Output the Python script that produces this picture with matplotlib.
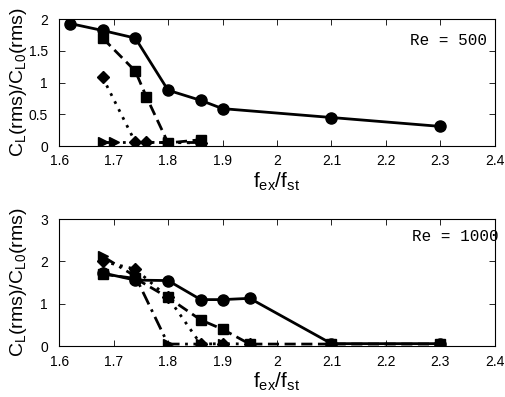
import matplotlib
matplotlib.use('Agg')
import matplotlib.pyplot as plt

plt.rcParams['font.family'] = 'Liberation Sans'
plt.rcParams['mathtext.fontset'] = 'custom'
plt.rcParams['mathtext.rm'] = 'Liberation Sans'
plt.rcParams['mathtext.it'] = 'Liberation Sans'

# Re = 500 data
x500_circ = [1.62, 1.68, 1.74, 1.80, 1.86, 1.90, 2.10, 2.30]
y500_circ = [1.93, 1.82, 1.70, 0.88, 0.72, 0.59, 0.45, 0.31]
x500_sq = [1.68, 1.74, 1.76, 1.80, 1.86]
y500_sq = [1.70, 1.18, 0.78, 0.05, 0.10]
x500_dia = [1.68, 1.74, 1.76, 1.86]
y500_dia = [1.08, 0.06, 0.06, 0.05]
x500_tri = [1.68, 1.70, 1.80, 1.86]
y500_tri = [0.06, 0.06, 0.06, 0.06]

# Re = 1000 data
x1000_circ = [1.68, 1.74, 1.80, 1.86, 1.90, 1.95, 2.10, 2.30]
y1000_circ = [1.73, 1.56, 1.55, 1.10, 1.10, 1.13, 0.06, 0.06]
x1000_sq = [1.68, 1.74, 1.80, 1.86, 1.90, 1.95, 2.10, 2.30]
y1000_sq = [1.70, 1.60, 1.15, 0.62, 0.40, 0.05, 0.05, 0.05]
x1000_dia = [1.68, 1.74, 1.80, 1.86, 1.90, 1.95]
y1000_dia = [2.00, 1.82, 1.15, 0.05, 0.06, 0.05]
x1000_tri = [1.68, 1.74, 1.80, 1.86, 1.90]
y1000_tri = [2.12, 1.65, 0.05, 0.05, 0.06]

xticks = [1.6, 1.7, 1.8, 1.9, 2.0, 2.1, 2.2, 2.3, 2.4]
xticklabels = ['1.6', '1.7', '1.8', '1.9', '2', '2.1', '2.2', '2.3', '2.4']
yticks_top = [0, 0.5, 1, 1.5, 2]
yticklabels_top = ['0', '0.5', '1', '1.5', '2']
yticks_bot = [0, 1, 2, 3]
yticklabels_bot = ['0', '1', '2', '3']

fig = plt.figure(figsize=(5.05, 3.97), dpi=100)
ax1 = fig.add_axes([0.117, 0.632, 0.863, 0.320])
ax2 = fig.add_axes([0.117, 0.128, 0.863, 0.320])

lw = 2.0
panels = [
    (ax1, x500_circ, y500_circ, x500_sq, y500_sq, x500_dia, y500_dia, x500_tri, y500_tri,
     yticks_top, yticklabels_top, 2, 'Re = 500', 0.805, 0.835),
    (ax2, x1000_circ, y1000_circ, x1000_sq, y1000_sq, x1000_dia, y1000_dia, x1000_tri, y1000_tri,
     yticks_bot, yticklabels_bot, 3, 'Re = 1000', 0.809, 0.86),
]

for (ax, xc, yc, xs, ys, xd, yd, xt, yt, yt_pos, yt_lab, ymax, label, tx, ty) in panels:
    ax.plot(xt, yt, color='black', lw=lw, linestyle=(0, (5, 2, 1, 2)), marker='>', markersize=7.5)
    ax.plot(xd, yd, color='black', lw=lw, linestyle=(0, (1, 2.2)), marker='D', markersize=6)
    ax.plot(xs, ys, color='black', lw=lw, linestyle=(0, (4, 2)), marker='s', markersize=6.5)
    ax.plot(xc, yc, color='black', lw=lw, linestyle='-', marker='o', markersize=8)

    ax.set_xlim(1.6, 2.4)
    ax.set_ylim(0, ymax)
    ax.set_xticks(xticks)
    ax.set_xticklabels(xticklabels, fontsize=10)
    ax.set_yticks(yt_pos)
    ax.set_yticklabels(yt_lab, fontsize=10)
    ax.tick_params(direction='in', top=True, right=True, length=4, width=0.6)
    ax.tick_params(axis='x', pad=6)
    ax.tick_params(axis='y', pad=8)
    for sp in ax.spines.values():
        sp.set_linewidth(0.8)

    ax.set_xlabel(r'f$_{\mathrm{ex}}$/f$_{\mathrm{st}}$', fontsize=15, va='top')
    ax.xaxis.set_label_coords(0.5, -0.19)
    ax.set_ylabel(r'C$_{\mathrm{L}}$(rms)/C$_{\mathrm{L0}}$(rms)', fontsize=14)
    ax.yaxis.set_label_coords(-0.068, 0.5)

    ax.text(tx, ty, label, transform=ax.transAxes, fontsize=11.5,
            family='Liberation Mono', va='center', ha='left', clip_on=False)

plt.savefig('out.png', dpi=100)
print("saved out.png")
